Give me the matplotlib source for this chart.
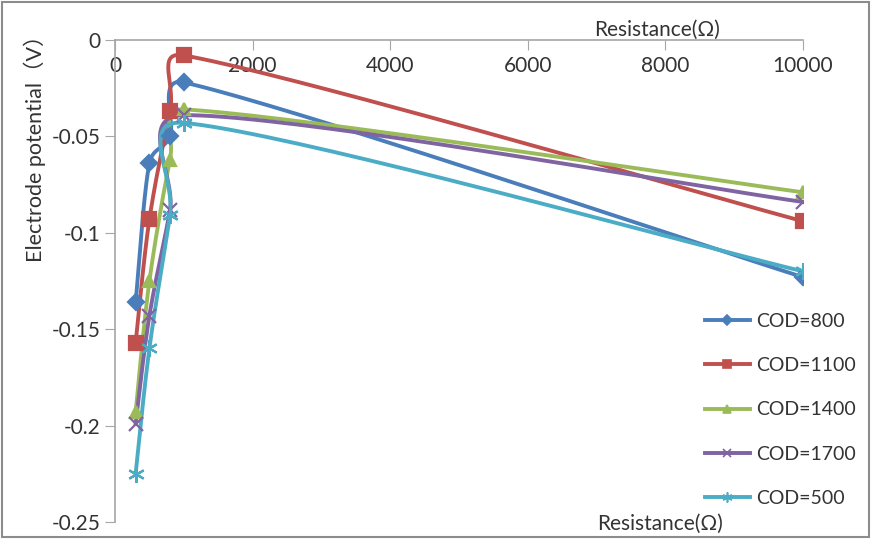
import numpy as np
import matplotlib.pyplot as plt
from matplotlib.patches import Rectangle

plt.rcParams['font.family'] = ['Lato', 'DejaVu Sans']

# data
resistance = [300, 500, 800, 1000, 10000]
labels = ['COD=800', 'COD=1100', 'COD=1400', 'COD=1700', 'COD=500']
cod800 = [-0.136, -0.064, -0.050, -0.022, -0.123]
cod1100 = [-0.157, -0.093, -0.037, -0.008, -0.094]
cod1400 = [-0.193, -0.125, -0.062, -0.036, -0.079]
cod1700 = [-0.199, -0.143, -0.088, -0.039, -0.084]
cod500 = [-0.225, -0.160, -0.091, -0.043, -0.120]
series = [cod800, cod1100, cod1400, cod1700, cod500]

colors = ['#4A7EBB', '#C0504D', '#9BBB59', '#8064A2', '#4BACC6']
markers = ['D', 's', '^', 'x', (6, 2, 0)]
msizes = [8, 10, 9, 10, 12]


def smooth(ax, xs, ys, n=40, clamp=0.5):
    # excel-like bezier smoothing done in display space
    pts = ax.transData.transform(np.column_stack([xs, ys]))
    out = []
    m = len(pts)
    for i in range(m - 1):
        p0 = pts[i - 1] if i > 0 else pts[i]
        p1, p2 = pts[i], pts[i + 1]
        p3 = pts[i + 2] if i + 2 < m else pts[i + 1]
        seg = np.hypot(*(p2 - p1))
        t1 = (p2 - p0) / 6
        t2 = (p3 - p1) / 6
        for t in (t1, t2):
            L = np.hypot(*t)
            if L > clamp * seg:
                t *= clamp * seg / L
        c1 = p1 + t1
        c2 = p2 - t2
        s = np.linspace(0, 1, n)[:, None]
        b = ((1 - s) ** 3) * p1 + 3 * ((1 - s) ** 2) * s * c1 + 3 * (1 - s) * s ** 2 * c2 + s ** 3 * p2
        out.append(b if i == 0 else b[1:])
    out = np.vstack(out)
    return ax.transData.inverted().transform(out)


fig = plt.figure(figsize=(8.72, 5.39), dpi=100)
ax = fig.add_axes([115 / 872, 1 - 522 / 539, (803 - 115) / 872, (522 - 40) / 539])
ax.set_xlim(0, 10000)
ax.set_ylim(-0.25, 0)

for ys, c, mk, ms, lab in zip(series, colors, markers, msizes, labels):
    curve = smooth(ax, resistance, ys)
    ax.plot(curve[:, 0], curve[:, 1], color=c, lw=2.8, zorder=2)
    ax.plot(resistance, ys, linestyle='none', marker=mk, color=c, ms=ms,
            mew=1.6, zorder=3)
    ax.plot([], [], color=c, lw=2.8, marker=mk, ms=ms * 0.6, mew=1.2, label=lab)

# axis styling like excel
for s in ['right', 'bottom']:
    ax.spines[s].set_visible(False)
for s in ['left', 'top']:
    ax.spines[s].set_color('#A6A6A6')
    ax.spines[s].set_linewidth(1.2)
ax.xaxis.tick_top()
ax.set_xticks(np.arange(0, 10001, 2000))
ax.tick_params(axis='x', direction='in', length=7, color='#A6A6A6', pad=-26,
               labelsize=15, labelcolor='#333333')
ax.set_yticks(np.arange(-0.25, 0.001, 0.05))
ax.set_yticklabels(['-0.25', '-0.2', '-0.15', '-0.1', '-0.05', '0'])
ax.tick_params(axis='y', direction='out', length=7, color='#A6A6A6',
               labelsize=15, labelcolor='#333333')

fig.text(657 / 872, 1 - 30 / 539, 'Resistance(Ω)', ha='center', va='center',
         fontsize=15, color='#333333')
fig.text(660 / 872, 1 - 524 / 539, 'Resistance(Ω)', ha='center', va='center',
         fontsize=15, color='#333333')
fig.text(35 / 872, 1 - 143 / 539, 'Electrode potential（V）', rotation=90,
         ha='center', va='center', fontsize=15.5, color='#333333',
         family=['Lato', 'Noto Sans CJK SC', 'DejaVu Sans'])

ax.legend(loc='upper left', bbox_to_anchor=(705 / 872, 1 - 313 / 539),
          bbox_transform=fig.transFigure, frameon=False, fontsize=14,
          borderpad=0, borderaxespad=0,
          labelspacing=1.4, handlelength=2.3, handletextpad=0.35,
          labelcolor='#333333')

fig.add_artist(Rectangle((0.002, 0.003), 0.995, 0.994, transform=fig.transFigure,
                         fill=False, edgecolor='#8C8C8C', lw=1.5))

fig.savefig('out.png', dpi=100)
